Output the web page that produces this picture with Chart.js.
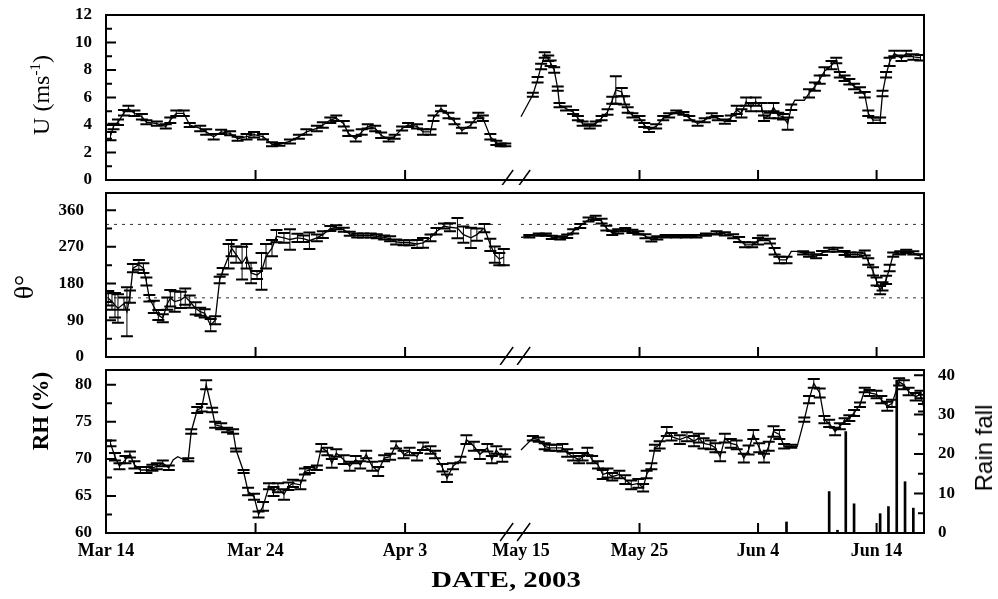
<!DOCTYPE html>
<html>
<head>
<meta charset="utf-8">
<script src="https://cdn.jsdelivr.net/npm/chart.js@4.4.1/dist/chart.umd.min.js"></script>
<style>
  body { margin: 0; background: #fff; width: 998px; height: 599px; overflow: hidden; position: relative; font-family: "Liberation Serif", serif; }
  canvas { position: absolute; left: 0; }
  .lab { position: absolute; white-space: nowrap; color: #000; transform: translate(-50%, -50%) rotate(-90deg); line-height: 1; }
  .lab sup { font-size: 15px; }
  #xtitle { position: absolute; left: 506px; top: 580px; transform: translate(-50%, -50%) scaleX(1.25); font: bold 23px "Liberation Serif", serif; white-space: nowrap; }
</style>
</head>
<body>
<canvas id="cU" width="998" height="185" style="top:0"></canvas>
<canvas id="cDir" width="998" height="180" style="top:185px"></canvas>
<canvas id="cRh" width="998" height="234" style="top:365px"></canvas>
<div class="lab" style="left:40px;top:95px;font-size:24px">U (ms<sup>-1</sup>)</div>
<div class="lab" style="left:24px;top:287px;font-size:28px">θ°</div>
<div class="lab" style="left:40px;top:411px;font-size:23px;font-weight:bold">RH (%)</div>
<div class="lab" style="left:984px;top:448px;font-size:24px;font-family:'Liberation Sans',sans-serif">Rain fall</div>
<div id="xtitle">DATE, 2003</div>
<script>
// dates: section 0 = days after Mar 14, section 1 = days after May 15
const tickDates = ['Mar 14', 'Mar 24', 'Apr 3', 'May 15', 'May 25', 'Jun 4', 'Jun 14'];
const tickSection = [0, 0, 0, 1, 1, 1, 1];
const tickDay = [0, 10, 20, 0, 10, 20, 30];

const uTicks = [0, 2, 4, 6, 8, 10, 12];
const dirTicks = [0, 90, 180, 270, 360];
const rhTicks = [60, 65, 70, 75, 80];
const rainTicks = [0, 10, 20, 30, 40];
const dirGuides = [325, 145];

// [day, value, error]
const uMar = [[0.3,3.2,0.3],[0.5,3.9,0.2],[0.8,4.2,0.2],[1.2,4.9,0.2],[1.5,5.2,0.2],[1.9,4.85,0.2],[2.4,4.6,0.2],[2.7,4.2,0.15],[3.4,4.1,0.15],[4.0,3.9,0.15],[4.3,4.35,0.2],[4.7,4.85,0.2],[5.2,4.85,0.2],[5.6,4.0,0.15],[6.3,3.75,0.2],[6.7,3.5,0.2],[7.2,3.15,0.2],[7.7,3.5,0.15],[8.3,3.4,0.15],[8.8,3.0,0.15],[9.4,3.15,0.2],[9.9,3.3,0.2],[10.5,3.15,0.2],[11.1,2.6,0.15],[11.6,2.6,0.1],[12.3,2.8,0.15],[12.9,3.15,0.15],[13.4,3.5,0.2],[14.1,3.75,0.2],[14.5,4.0,0.2],[15.0,4.35,0.2],[15.4,4.5,0.2],[15.9,4.1,0.2],[16.2,3.4,0.2],[16.7,3.0,0.2],[17.1,3.5,0.2],[17.5,3.9,0.15],[18.0,3.75,0.2],[18.4,3.25,0.2],[18.9,2.95,0.15],[19.3,3.15,0.15],[19.8,3.75,0.15],[20.2,4.0,0.15],[20.8,3.9,0.15],[21.2,3.5,0.2],[21.7,3.5,0.2],[21.9,4.5,0.2],[22.4,5.2,0.2],[22.9,4.7,0.2],[23.3,4.25,0.2],[23.8,3.6,0.2],[24.4,4.0,0.2],[24.9,4.7,0.2],[25.2,4.5,0.2],[25.7,3.15,0.2],[26.1,2.7,0.15],[26.4,2.55,0.1],[26.7,2.55,0.1]];
const uMay = [[0.0,4.6,0],[1.0,6.2,0.15],[1.4,7.3,0.2],[1.7,8.25,0.2],[2.0,9.1,0.2],[2.3,8.85,0.2],[2.5,8.5,0.2],[2.8,8.0,0.2],[3.1,6.65,0.15],[3.25,5.45,0.15],[3.8,5.2,0.15],[4.4,4.95,0.15],[4.8,4.5,0.15],[5.2,4.1,0.15],[5.8,3.9,0.15],[6.3,4.1,0.15],[6.8,4.5,0.15],[7.3,4.95,0.2],[7.7,5.8,0.25],[8.0,6.55,1.0],[8.5,6.4,0.3],[8.7,5.8,0.3],[9.0,5.1,0.2],[9.4,4.7,0.15],[10.0,4.5,0.15],[10.4,4.0,0.15],[10.8,3.65,0.15],[11.4,3.9,0.15],[12.0,4.5,0.15],[12.5,4.7,0.15],[13.1,4.95,0.1],[13.7,4.85,0.1],[14.2,4.5,0.15],[14.9,4.1,0.15],[15.5,4.35,0.15],[16.1,4.7,0.15],[16.6,4.5,0.15],[17.2,4.25,0.15],[17.7,4.5,0.2],[18.2,5.1,0.3],[18.6,4.85,0.3],[19.0,5.7,0.3],[19.4,5.3,0.3],[19.8,5.7,0.3],[20.3,5.3,0.3],[20.5,4.5,0.2],[21.0,4.7,0.2],[21.3,5.3,0.3],[21.7,4.7,0.2],[22.1,4.6,0.2],[22.5,4.1,0.45],[22.8,5.3,0.2],[23.1,5.8,0],[23.9,5.8,0],[24.3,6.3,0.3],[24.8,6.8,0.3],[25.2,7.3,0.3],[25.6,7.9,0.3],[26.2,8.35,0.3],[26.6,8.7,0.2],[26.9,7.65,0.2],[27.3,7.4,0.2],[27.7,7.15,0.2],[28.1,6.8,0.2],[28.6,6.55,0.2],[29.0,6.2,0.2],[29.3,4.85,0.2],[29.7,4.35,0.2],[30.3,4.35,0.2],[30.5,6.3,0.2],[30.8,7.65,0.2],[31.1,8.6,0.3],[31.5,9.2,0.2],[32.1,8.85,0.2],[32.5,9.2,0.2],[33.1,8.95,0.2],[33.7,8.9,0.2]];

const dirMar = [[0.15,144,18],[0.4,136,20],[0.6,127,30],[0.8,119,35],[1.2,131,15],[1.4,111,60],[1.6,148,15],[1.8,218,10],[2.2,226,12],[2.5,218,12],[2.7,185,10],[2.9,144,8],[3.2,123,15],[3.5,103,12],[3.8,95,10],[4.1,131,15],[4.3,144,20],[4.6,136,25],[5.0,140,20],[5.3,148,20],[5.6,136,15],[6.0,119,15],[6.3,111,10],[6.6,107,10],[7.0,78,15],[7.3,90,10],[7.6,189,8],[7.8,210,8],[8.2,247,30],[8.4,267,20],[8.7,251,20],[9.1,230,40],[9.4,247,30],[9.7,206,25],[10.1,201,10],[10.4,210,45],[10.7,247,30],[11.1,267,20],[11.4,296,15],[11.9,292,12],[12.3,288,25],[12.8,292,10],[13.2,290,8],[13.6,285,20],[14.1,292,8],[14.5,300,8],[15.0,315,6],[15.4,318,5],[15.9,312,5],[16.3,302,5],[16.8,298,5],[17.2,298,5],[17.7,298,5],[18.1,296,5],[18.6,293,5],[19.0,290,6],[19.4,282,6],[19.9,280,6],[20.3,280,6],[20.8,277,10],[21.2,280,12],[21.7,292,8],[22.1,308,8],[22.6,321,6],[23.0,318,10],[23.5,316,25],[23.9,300,20],[24.4,292,25],[24.8,300,15],[25.3,316,10],[25.7,275,15],[26.0,251,20],[26.3,240,15],[26.6,245,20]];
const dirMay = [[0.0,293,0],[0.7,296,3],[1.5,300,3],[2.1,300,3],[2.6,293,4],[3.3,292,4],[3.9,296,4],[4.4,308,5],[5.0,321,5],[5.7,337,5],[6.3,341,5],[6.8,333,6],[7.2,316,6],[7.7,304,5],[8.2,308,5],[8.8,312,4],[9.4,308,4],[9.9,304,4],[10.5,296,5],[11.0,288,5],[11.5,292,4],[12.2,296,3],[13.1,296,3],[13.9,296,3],[14.8,296,3],[15.6,300,3],[16.5,304,4],[17.2,302,4],[17.9,296,5],[18.4,288,6],[18.9,275,6],[19.5,275,6],[20.0,284,8],[20.4,292,6],[21.0,284,6],[21.4,259,8],[21.8,238,8],[22.4,238,8],[22.8,259,0],[23.2,259,0],[23.8,255,4],[24.3,251,5],[24.9,247,5],[25.4,255,5],[26.0,263,5],[26.7,263,5],[27.3,255,5],[27.8,251,5],[28.4,251,5],[29.0,255,6],[29.3,234,8],[29.7,210,10],[30.0,185,10],[30.3,164,10],[30.5,173,10],[30.8,189,10],[31.1,218,8],[31.4,251,5],[32.0,255,4],[32.5,259,4],[33.1,255,4],[33.7,247,5]];

const rhMar = [[0.3,72.1,0.4],[0.6,70.3,0.5],[0.9,69.0,0.4],[1.3,69.9,0.5],[1.6,70.6,0.4],[1.9,69.2,0.5],[2.3,68.5,0.4],[2.7,68.5,0.4],[3.1,68.8,0.4],[3.4,69.0,0.4],[3.8,69.4,0.4],[4.2,68.8,0.3],[4.5,69.9,0],[4.8,70.3,0],[5.2,69.9,0],[5.5,69.9,0.2],[5.7,73.7,0.3],[6.1,76.6,0.4],[6.4,76.9,0.5],[6.7,80.0,0.6],[7.1,76.6,0.3],[7.3,74.6,0.4],[7.7,74.4,0.4],[8.1,73.9,0.3],[8.5,73.7,0.3],[8.7,71.2,0.2],[9.2,68.3,0.2],[9.5,65.6,0.5],[9.9,64.9,0.4],[10.2,62.5,0.4],[10.5,63.6,0.6],[10.9,66.3,0.4],[11.2,65.6,0.6],[11.5,66.1,0.6],[11.9,65.2,0.7],[12.2,66.3,0.5],[12.5,66.7,0.5],[13.0,66.5,0.6],[13.3,68.3,0.4],[13.6,68.5,0.4],[14.1,68.8,0.3],[14.4,71.5,0.5],[14.8,71.0,0.5],[15.1,69.4,0.6],[15.4,70.8,0.5],[15.9,69.9,0.6],[16.3,69.0,0.6],[16.7,69.9,0.5],[17.0,69.2,0.5],[17.4,70.6,0.5],[17.8,69.0,0.6],[18.2,68.3,0.6],[18.6,70.1,0.4],[19.0,70.3,0.4],[19.4,71.9,0.5],[19.9,70.6,0.5],[20.3,71.0,0.5],[20.8,70.3,0.5],[21.2,71.7,0.5],[21.7,71.2,0.5],[22.0,70.6,0.5],[22.5,68.8,0.5],[22.8,67.4,0.5],[23.2,69.0,0.4],[23.7,69.9,0.4],[24.1,72.6,0.6],[24.6,71.7,0.6],[25.0,70.6,0.6],[25.5,71.5,0.5],[25.8,69.9,0.5],[26.1,71.2,0.5],[26.5,70.1,0.5],[26.7,70.8,0.5]];
const rhMay = [[0.0,71.2,0],[1.0,72.8,0.3],[1.5,72.6,0.3],[2.0,71.7,0.4],[2.4,71.5,0.4],[3.0,71.5,0.4],[3.5,71.5,0.5],[3.9,70.8,0.5],[4.4,70.3,0.5],[4.9,69.9,0.5],[5.2,70.3,0.5],[5.6,71.0,0.5],[6.0,69.9,0.5],[6.5,69.2,0.5],[6.9,67.9,0.6],[7.3,68.1,0.6],[7.7,67.6,0.5],[8.3,67.9,0.5],[8.8,67.2,0.6],[9.3,66.5,0.6],[9.9,66.7,0.6],[10.3,66.1,0.5],[10.6,67.9,0.5],[11.0,69.0,0.4],[11.3,71.5,0.4],[11.7,71.9,0.5],[12.3,73.7,0.6],[12.7,73.0,0.5],[13.4,72.6,0.6],[14.0,73.0,0.6],[14.6,72.4,0.7],[15.0,72.8,0.6],[15.4,72.1,0.7],[16.0,71.9,0.6],[16.4,71.5,0.6],[16.8,70.3,0.6],[17.2,72.8,0.6],[17.7,72.1,0.6],[18.2,71.9,0.6],[18.8,70.1,0.6],[19.2,71.2,0.6],[19.6,73.3,0.6],[20.1,71.5,0.6],[20.5,70.1,0.6],[20.9,71.7,0.6],[21.3,73.7,0.7],[21.8,73.3,0.6],[22.2,71.7,0.3],[22.8,71.7,0.2],[23.3,71.7,0],[23.9,75.3,0.3],[24.3,78.0,0.5],[24.7,80.2,0.6],[25.2,78.9,0.6],[25.6,75.3,0.5],[26.0,74.8,0.5],[26.5,73.7,0.5],[26.9,74.4,0.4],[27.3,75.1,0.4],[27.7,75.5,0.4],[28.1,76.2,0.4],[28.6,77.3,0.3],[29.0,79.3,0.3],[29.4,78.9,0.4],[30.0,78.7,0.5],[30.4,78.0,0.5],[30.9,77.1,0.6],[31.3,77.5,0.5],[31.9,80.4,0.5],[32.3,80.0,0.6],[32.7,79.1,0.5],[33.3,78.4,0.5],[33.7,78.7,0.5],[34.0,76.9,0.5]];
// [day after May 15, rain]
const rainMay = [[22.4,2.8],[26.0,10.5],[26.7,0.7],[27.4,25.7],[28.1,7.4],[30.3,4.9],[31.0,6.7],[31.7,38.7],[32.4,13.0],[33.1,6.3]];

// broken x axis: the May-June part is drawn compressed after a short gap
const MAR_END = 26.6, MAY_START = 27.75, MAY_SCALE = 0.7926, MAY_END = 34.0, BREAK_AT = 27.36;
function ux(sec, d) { return sec === 0 ? d : MAY_START + d * MAY_SCALE; }
const X_MAX = ux(1, MAY_END);

Chart.defaults.font.family = 'Liberation Serif';
Chart.defaults.color = '#000';

const tickFont = { family: 'Liberation Serif', size: 17, weight: 'bold' };

function noPad(s) { s.paddingTop = 0; s.paddingBottom = 0; s.paddingLeft = 0; s.paddingRight = 0; }

function xScale(showLabels, height) {
  return {
    type: 'linear', min: 0, max: X_MAX, offset: false,
    grid: { display: false, drawTicks: false, offset: false }, border: { display: false },
    afterBuildTicks: s => { s.ticks = tickDates.map((t, i) => ({ value: ux(tickSection[i], tickDay[i]) })); },
    ticks: {
      display: showLabels, autoSkip: false, maxRotation: 0, minRotation: 0, padding: 8,
      font: { family: 'Liberation Serif', size: 18, weight: 'bold' },
      callback: (v, i) => tickDates[i]
    },
    afterFit: s => { s.height = height; noPad(s); }
  };
}

function yScale(ticksArr, min, max, position, width, padding) {
  return {
    type: 'linear', position, min, max,
    grid: { display: false, drawTicks: false }, border: { display: false },
    afterBuildTicks: s => { s.ticks = ticksArr.map(v => ({ value: v })); },
    ticks: { padding, font: tickFont },
    afterFit: s => { s.width = width; noPad(s); }
  };
}

function series(marRows, mayRows) {
  return [marRows, mayRows].map((rows, sec) => ({
    type: 'line',
    data: rows.map(r => ({ x: ux(sec, r[0]), y: r[1] })),
    errors: rows.map(r => r[2]),
    borderColor: '#000', borderWidth: 1.3, pointRadius: 0, tension: 0, yAxisID: 'y'
  }));
}

function guides(values) {
  const out = [];
  values.forEach(v => {
    [[ux(0, 0), ux(0, MAR_END)], [ux(1, 0), ux(1, MAY_END)]].forEach(([a, b]) => {
      out.push({ type: 'line', data: [{ x: a, y: v }, { x: b, y: v }], borderColor: '#333', borderWidth: 1,
        borderDash: [3, 5], pointRadius: 0, yAxisID: 'y' });
    });
  });
  return out;
}

// error bars, frame, inner ticks and axis-break marks
const decor = {
  id: 'decor',
  afterDatasetsDraw(chart) {
    const ctx = chart.ctx, a = chart.chartArea;
    ctx.save();
    ctx.beginPath(); ctx.rect(a.left, a.top, a.right - a.left, a.bottom - a.top); ctx.clip();
    ctx.strokeStyle = '#000';
    chart.data.datasets.forEach((ds, di) => {
      if (!ds.errors) return;
      const meta = chart.getDatasetMeta(di);
      const ys = chart.scales[ds.yAxisID];
      meta.data.forEach((pt, i) => {
        const e = ds.errors[i];
        if (!e) return;
        const v = ds.data[i].y;
        const y1 = ys.getPixelForValue(v + e), y2 = ys.getPixelForValue(v - e);
        ctx.lineWidth = 1;
        ctx.beginPath(); ctx.moveTo(pt.x, y1); ctx.lineTo(pt.x, y2); ctx.stroke();
        ctx.lineWidth = 2;
        ctx.beginPath();
        ctx.moveTo(pt.x - 6, y1); ctx.lineTo(pt.x + 6, y1);
        ctx.moveTo(pt.x - 6, y2); ctx.lineTo(pt.x + 6, y2);
        ctx.stroke();
      });
    });
    ctx.restore();
  },
  afterDraw(chart) {
    const ctx = chart.ctx, a = chart.chartArea;
    ctx.save();
    ctx.strokeStyle = '#000';
    ctx.lineWidth = 2;
    ctx.strokeRect(a.left, a.top, a.right - a.left, a.bottom - a.top);
    const yTicks = (s, side) => {
      const vals = s.ticks.map(t => t.value);
      const mids = vals.slice(1).map((v, i) => (v + vals[i]) / 2);
      ctx.beginPath();
      [[vals, 10], [mids, 6]].forEach(([list, len]) => list.forEach(v => {
        const y = s.getPixelForValue(v);
        if (y <= a.top + 1 || y >= a.bottom - 1) return;
        const x0 = side === 'left' ? a.left : a.right;
        ctx.moveTo(x0, y); ctx.lineTo(side === 'left' ? x0 + len : x0 - len, y);
      }));
      ctx.stroke();
    };
    yTicks(chart.scales.y, 'left');
    if (chart.scales.y2) yTicks(chart.scales.y2, 'right');
    const xs = chart.scales.x;
    ctx.beginPath();
    tickDates.forEach((t, i) => {
      if (tickDay[i] === 0) return;
      const x = xs.getPixelForValue(ux(tickSection[i], tickDay[i]));
      ctx.moveTo(x, a.bottom); ctx.lineTo(x, a.bottom - 10);
    });
    ctx.stroke();
    const bx = xs.getPixelForValue(BREAK_AT);
    ctx.lineWidth = 1.5;
    ctx.beginPath();
    [0, 17].forEach(o => {
      ctx.moveTo(bx - 15 + o, a.bottom + 8);
      ctx.lineTo(bx - 2 + o, a.bottom - 10);
    });
    ctx.stroke();
    ctx.restore();
  }
};

function makeChart(id, datasets, scales, padding) {
  return new Chart(document.getElementById(id), {
    type: 'line',
    data: { datasets },
    options: {
      responsive: false, animation: false, devicePixelRatio: 1,
      layout: { padding },
      plugins: { legend: { display: false }, tooltip: { enabled: false } },
      scales
    },
    plugins: [decor]
  });
}

makeChart('cU', series(uMar, uMay),
  { x: xScale(false, 5), y: yScale(uTicks, 0, 12, 'left', 106, 14) },
  { top: 15, right: 74, left: 0, bottom: 0 });

makeChart('cDir', guides(dirGuides).concat(series(dirMar, dirMay)),
  { x: xScale(false, 8), y: yScale(dirTicks, 0, 402, 'left', 106, 22) },
  { top: 8, right: 74, left: 0, bottom: 0 });

const rainSet = {
  type: 'bar', yAxisID: 'y2',
  data: rainMay.map(r => ({ x: ux(1, r[0]), y: r[1] })),
  backgroundColor: '#000', barThickness: 2
};
makeChart('cRh', [rainSet].concat(series(rhMar, rhMay)),
  { x: xScale(true, 66), y: yScale(rhTicks, 60, 82, 'left', 106, 14),
    y2: yScale(rainTicks, 0, 41.3, 'right', 74, 14) },
  { top: 5, right: 0, left: 0, bottom: 0 });
</script>
</body>
</html>
